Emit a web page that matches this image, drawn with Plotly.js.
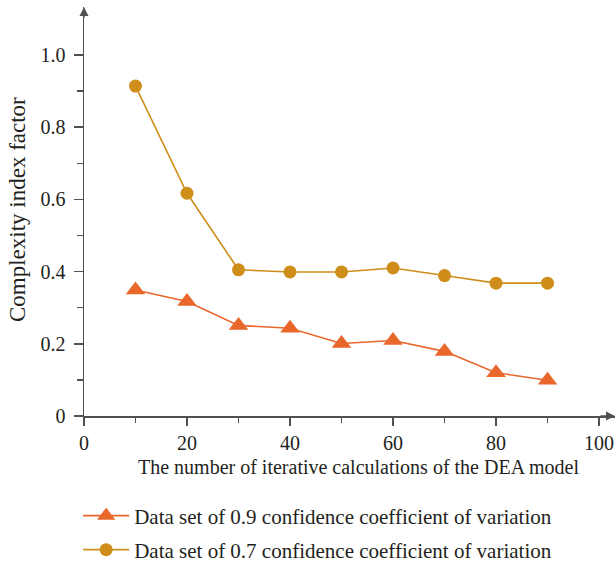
<!DOCTYPE html>
<html>
<head>
<meta charset="utf-8">
<script src="https://cdn.plot.ly/plotly-3.0.1.min.js"></script>
<style>html,body{margin:0;padding:0;background:#fff;}#chart{width:616px;height:563px;}</style>
</head>
<body>
<div id="chart"></div>
<script>
const iterations = [10, 20, 30, 40, 50, 60, 70, 80, 90];
const set09 = [0.349, 0.317, 0.251, 0.243, 0.201, 0.209, 0.179, 0.120, 0.099];
const set07 = [0.914, 0.617, 0.405, 0.399, 0.399, 0.410, 0.389, 0.368, 0.368];
const name09 = "Data set of 0.9 confidence coefficient of variation";
const name07 = "Data set of 0.7 confidence coefficient of variation";
const xTickVals = [0, 20, 40, 60, 80, 100];
const xTickText = ["0", "20", "40", "60", "80", "100"];
const xMinorVals = [10, 30, 50, 70, 90];
const yTickVals = [0, 0.2, 0.4, 0.6, 0.8, 1.0];
const yTickText = ["0", "0.2", "0.4", "0.6", "0.8", "1.0"];
const yMinorVals = [0.1, 0.3, 0.5, 0.7, 0.9];
const xTitle = "The number of iterative calculations of the DEA model";
const yTitle = "Complexity index factor";

const FONT = "'Liberation Serif', 'Times New Roman', serif";
const TXT = "#231F20";
const AX = "#505050";
const FS = 20;

const traces = [
  {
    x: iterations, y: set09, name: name09, type: "scatter", mode: "lines+markers",
    line: {color: "#E9672A", width: 1.6},
    marker: {symbol: "triangle-up", size: 17, color: "#E9672A"},
    legend: "legend", hoverinfo: "skip", cliponaxis: false
  },
  {
    x: iterations, y: set07, name: name07, type: "scatter", mode: "lines+markers",
    line: {color: "#CF8E1A", width: 1.6},
    marker: {symbol: "circle", size: 13, color: "#CF8E1A"},
    legend: "legend2", hoverinfo: "skip", cliponaxis: false
  }
];

const layout = {
  width: 616, height: 563,
  margin: {l: 84, r: 1, t: 7, b: 146.5, autoexpand: false},
  paper_bgcolor: "#fff", plot_bgcolor: "#fff",
  font: {family: FONT, size: FS, color: TXT},
  showlegend: true,
  xaxis: {
    range: [0, 103.1], showgrid: false, zeroline: false,
    showline: true, linecolor: AX, linewidth: 1.5,
    tickmode: "array", tickvals: xTickVals, ticktext: xTickText,
    ticks: "outside", ticklen: 8, tickwidth: 1.5, tickcolor: AX,
    minor: {tickmode: "array", tickvals: xMinorVals, ticks: "outside", ticklen: 5, tickwidth: 1.5, tickcolor: AX, showgrid: false},
    tickfont: {family: FONT, size: FS, color: TXT},
    fixedrange: true
  },
  yaxis: {
    range: [0, 1.133], showgrid: false, zeroline: false,
    showline: true, linecolor: AX, linewidth: 1.5,
    tickmode: "array", tickvals: yTickVals, ticktext: yTickText,
    ticks: "outside", ticklen: 9, tickwidth: 1.5, tickcolor: AX,
    minor: {tickmode: "array", tickvals: yMinorVals, ticks: "outside", ticklen: 6, tickwidth: 1.5, tickcolor: AX, showgrid: false},
    tickfont: {family: FONT, size: FS, color: TXT},
    ticklabelstandoff: 4,
    fixedrange: true
  },
  legend: {
    x: -0.011, xref: "paper", xanchor: "left",
    y: 0.0835, yref: "container", yanchor: "middle", itemwidth: 46,
    font: {family: FONT, size: 21, color: TXT}, bgcolor: "rgba(0,0,0,0)", borderwidth: 0
  },
  legend2: {
    x: -0.011, xref: "paper", xanchor: "left",
    y: 0.0231, yref: "container", yanchor: "middle", itemwidth: 46,
    font: {family: FONT, size: 21, color: TXT}, bgcolor: "rgba(0,0,0,0)", borderwidth: 0
  },
  annotations: [
    {text: xTitle, xref: "paper", yref: "paper", x: 0.517, y: -0.125, xanchor: "center", yanchor: "middle",
     showarrow: false, font: {family: FONT, size: FS, color: TXT}},
    {text: yTitle, xref: "paper", yref: "paper", x: -0.125, y: 0.505, xanchor: "center", yanchor: "middle",
     textangle: -90, showarrow: false, font: {family: FONT, size: 23, color: TXT}},
    {text: "", xref: "x", yref: "y", x: 103.1, y: 0, ax: 100, ay: 0, axref: "x", ayref: "y",
     showarrow: true, arrowhead: 2, arrowsize: 1.2, arrowwidth: 1.5, arrowcolor: AX, standoff: 0},
    {text: "", xref: "x", yref: "y", x: 0, y: 1.133, ax: 0, ay: 1.10, axref: "x", ayref: "y",
     showarrow: true, arrowhead: 2, arrowsize: 1.2, arrowwidth: 1.5, arrowcolor: AX, standoff: 0}
  ]
};

Plotly.newPlot("chart", traces, layout, {displayModeBar: false, staticPlot: true});
</script>
</body>
</html>
